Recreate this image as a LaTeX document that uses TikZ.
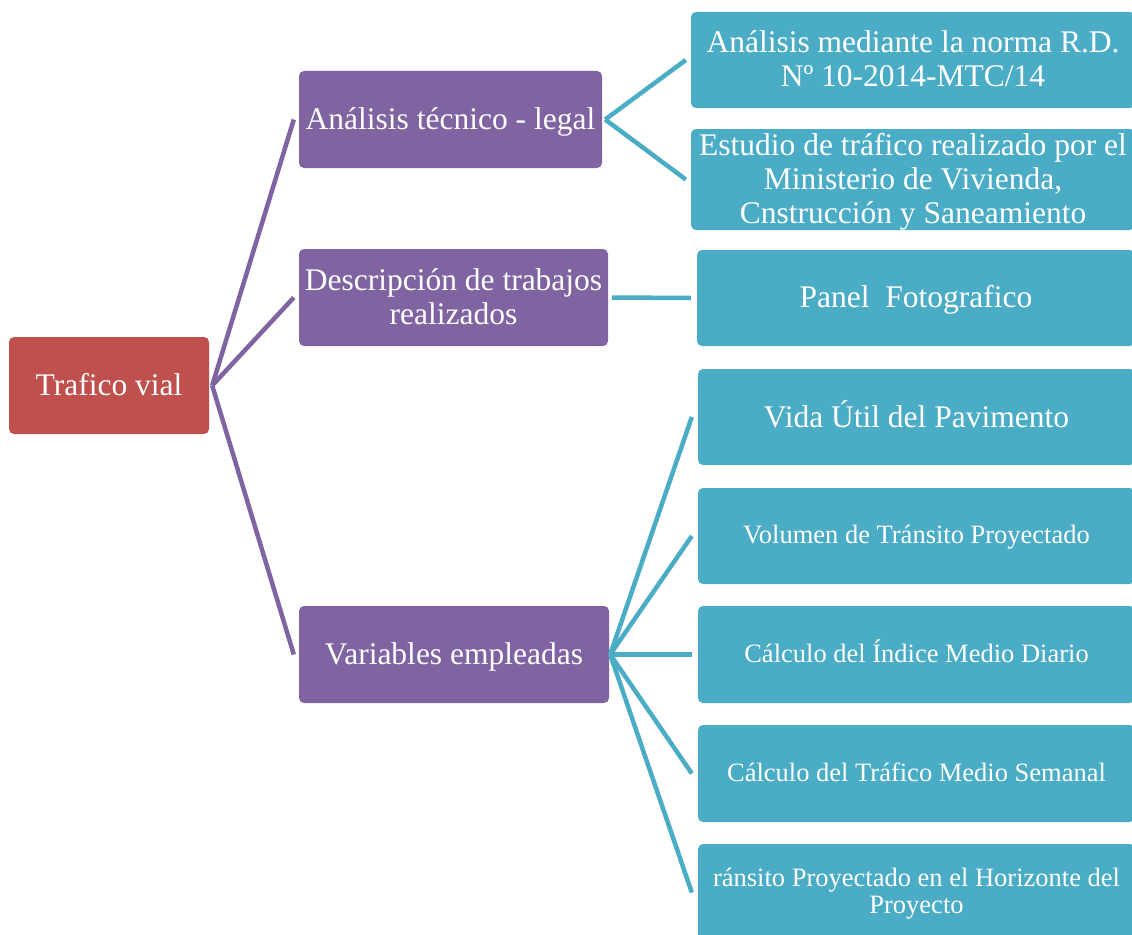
\documentclass[tikz,border=0pt]{standalone}
\usepackage{fontspec}
\setmainfont{Liberation Serif}
\definecolor{rootred}{HTML}{C0504D}
\definecolor{midpurple}{HTML}{8064A2}
\definecolor{leafteal}{HTML}{4BACC6}
% invisible rules fixing the height of a first line and the depth of a last line
\newcommand{\bigtop}{\vrule width 0pt height 26pt depth 0pt\relax}
\newcommand{\bigbot}{\vrule width 0pt height 0pt depth 7pt\relax}
\newcommand{\smalltop}{\vrule width 0pt height 22pt depth 0pt\relax}
\newcommand{\smallbot}{\vrule width 0pt height 0pt depth 7pt\relax}
\tikzset{
  box/.style={rounded corners=5pt, inner sep=0pt, align=center, text=white,
    font=\fontsize{31.5}{34}\selectfont},
  rootbox/.style={box, fill=rootred, minimum width=200pt, minimum height=97pt},
  midbox/.style={box, fill=midpurple, minimum height=97pt},
  leafbox/.style={box, fill=leafteal, minimum height=96pt},
  smalltext/.style={font=\fontsize{26.5}{27}\selectfont},
  purplelink/.style={draw=midpurple, line width=4.5pt},
  teallink/.style={draw=leafteal, line width=4.5pt}
}
\begin{document}
\lineskiplimit=-100pt
\begin{tikzpicture}[x=1pt,y=-1pt]
\useasboundingbox (0,0) rectangle (1132,934);
\clip (0,0) rectangle (1132,934);
\fill[white] (0,0) rectangle (1132,934);

% root
\node[rootbox] (root) at (109,385.5) {\bigtop Trafico vial\bigbot};

% second level
\node[midbox, minimum width=303pt] (tech) at (450.5,119.5) {\bigtop Análisis técnico - legal\bigbot};
\node[midbox, minimum width=309pt] (desc) at (453.5,297.5) {\bigtop Descripción de trabajos\\realizados\bigbot};
\node[midbox, minimum width=310pt] (vars) at (454,654.5) {\bigtop Variables empleadas\bigbot};

% leaves
\node[leafbox, minimum width=444pt] (norma) at (913,60) {\bigtop Análisis mediante la norma R.D.\\Nº 10-2014-MTC/14\bigbot};
\node[leafbox, minimum width=444pt, minimum height=97pt] (estudio) at (913,179.5) {\bigtop Estudio de tráfico realizado por el\\Ministerio de Vivienda,\\Cnstrucción y Saneamiento\bigbot};
\node[leafbox, minimum width=438pt] (panel) at (916,298) {\bigtop Panel\ \ Fotografico\bigbot};
\node[leafbox, minimum width=437pt] (vida) at (916.5,417) {\bigtop Vida Útil del Pavimento\bigbot};
\node[leafbox, smalltext, minimum width=437pt] (volumen) at (916.5,536) {\smalltop Volumen de Tránsito Proyectado\smallbot};
\node[leafbox, smalltext, minimum width=437pt, minimum height=97pt] (imd) at (916.5,654.5) {\smalltop Cálculo del Índice Medio Diario\smallbot};
\node[leafbox, smalltext, minimum width=437pt, minimum height=97pt] (tms) at (916.5,773.5) {\smalltop Cálculo del Tráfico Medio Semanal\smallbot};
\node[leafbox, smalltext, minimum width=437pt, minimum height=97pt] (horiz) at (916.5,892.5) {\smalltop ránsito Proyectado en el Horizonte del\\Proyecto\smallbot};

% connectors from the root
\foreach \c in {tech,desc,vars}
  \draw[purplelink] ([xshift=3pt]root.east) -- ([xshift=-5pt]\c.west);

% connectors from the second level
\foreach \c in {norma,estudio}
  \draw[teallink] ([xshift=3pt]tech.east) -- ([xshift=-5pt]\c.west);
\draw[teallink] ([xshift=4pt]desc.east) -- ([xshift=-6pt]panel.west);
\foreach \c in {vida,volumen,imd,tms,horiz}
  \draw[teallink] ([xshift=1pt]vars.east) -- ([xshift=-6pt]\c.west);
\end{tikzpicture}
\end{document}
